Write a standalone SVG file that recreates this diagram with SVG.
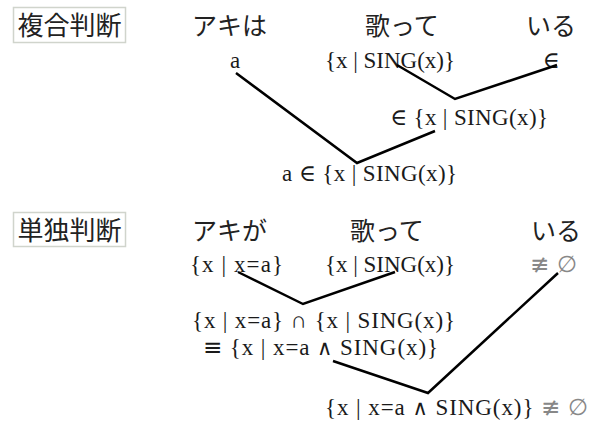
<svg xmlns="http://www.w3.org/2000/svg" width="609" height="427" viewBox="0 0 609 427">
<style>
.jp{font-family:"Noto Sans CJK JP","Noto Sans",sans-serif;font-size:25px;fill:#222}
.lb{font-size:26px}
.m{font-family:"Liberation Serif","DejaVu Serif",serif;font-size:23px;fill:#1a1a1a}
.s{font-family:"DejaVu Sans",sans-serif;font-size:23px}
.w{font-family:"DejaVu Sans",sans-serif;font-size:21px}
.g{fill:#888}
.box{fill:#fff;stroke:#d0d4cc;stroke-width:1.5}
.ln{fill:none;stroke:#000;stroke-width:2.5;stroke-linejoin:miter}
</style>
<rect width="609" height="427" fill="#fff"/>
<g id="label-fukugo">
<rect class="box" x="13.5" y="7.5" width="112" height="35"/>
<text class="jp lb" x="69.5" y="35" text-anchor="middle">複合判断</text>
</g>
<g id="top-words">
<text class="jp" x="192" y="35">アキは</text>
<text class="jp" x="365" y="35">歌って</text>
<text class="jp" x="526" y="35">いる</text>
</g>
<g id="top-a"><text class="m" x="235" y="68" text-anchor="middle">a</text></g>
<g id="top-sing"><text class="m" x="325" y="68" textLength="130" lengthAdjust="spacing">{x | SING(x)}</text></g>
<g id="top-in"><text class="m" x="551" y="68" text-anchor="middle">∈</text></g>
<g id="top-in-sing"><text class="m" x="390" y="125" textLength="158" lengthAdjust="spacing">∈ {x | SING(x)}</text></g>
<g id="top-result"><text class="m" x="282" y="181" textLength="175" lengthAdjust="spacing">a ∈ {x | SING(x)}</text></g>

<g id="label-tandoku">
<rect class="box" x="13.5" y="212.5" width="112" height="34"/>
<text class="jp lb" x="69.5" y="240" text-anchor="middle">単独判断</text>
</g>
<g id="bottom-words">
<text class="jp" x="192" y="240">アキが</text>
<text class="jp" x="350" y="240">歌って</text>
<text class="jp" x="531" y="240">いる</text>
</g>
<g id="bot-xa"><text class="m" x="190" y="272" textLength="93" lengthAdjust="spacing">{x | x=a}</text></g>
<g id="bot-sing"><text class="m" x="325" y="272" textLength="130" lengthAdjust="spacing">{x | SING(x)}</text></g>
<g id="bot-neq"><text class="m g" x="530" y="272" textLength="47" lengthAdjust="spacing"><tspan class="s">≢</tspan> ∅</text></g>
<g id="bot-cap"><text class="m" x="192" y="328" textLength="263" lengthAdjust="spacing">{x | x=a} ∩ {x | SING(x)}</text></g>
<g id="bot-equiv"><text class="m" x="203" y="355" textLength="235" lengthAdjust="spacing"><tspan class="s">≡</tspan> {x | x=a <tspan class="w">∧</tspan> SING(x)}</text></g>
<g id="bot-result"><text class="m" x="325" y="415" textLength="263" lengthAdjust="spacing">{x | x=a <tspan class="w">∧</tspan> SING(x)} <tspan class="s g">≢</tspan> <tspan class="g">∅</tspan></text></g>

<g id="connectors">
<polyline class="ln" points="236,73 357,163 435,131"/>
<polyline class="ln" points="397,65 455,99 557,65"/>
<polyline class="ln" points="238,272 303,304 395,272"/>
<polyline class="ln" points="333,361 428,393 558,273"/>
</g>
</svg>
